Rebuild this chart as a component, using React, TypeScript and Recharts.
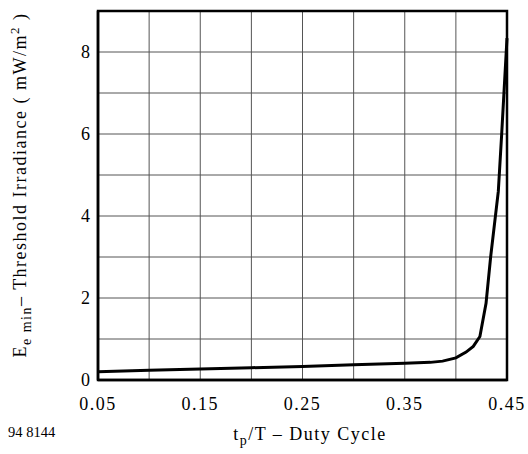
import React from 'react';
import { LineChart, Line, XAxis, YAxis, CartesianGrid, ReferenceArea, Label } from 'recharts';

const dutyCycle = [0.05, 0.1, 0.15, 0.2, 0.25, 0.3, 0.35, 0.375, 0.387, 0.4, 0.41, 0.417, 0.4235, 0.4295, 0.434, 0.4415, 0.4448, 0.45];
const irradiance = [0.2, 0.24, 0.27, 0.3, 0.33, 0.37, 0.41, 0.43, 0.46, 0.54, 0.68, 0.82, 1.06, 1.87, 3.0, 4.6, 6.0, 8.34];

const xTicks = [0.05, 0.1, 0.15, 0.2, 0.25, 0.3, 0.35, 0.4, 0.45];
const xLabeled = [0.05, 0.15, 0.25, 0.35, 0.45];
const yTicks = [0, 1, 2, 3, 4, 5, 6, 7, 8, 9];
const yLabeled = [0, 2, 4, 6, 8];

const data = dutyCycle.map((x, i) => ({ x, y: irradiance[i] }));

const FONT = 'Liberation Serif';

export default function App() {
  return (
    <div style={{ position: 'absolute', left: 0, top: 0, width: 528, height: 454, background: '#fff' }}>
      <LineChart width={528} height={454} data={data} margin={{ top: 11, right: 21, bottom: 44, left: 0 }}>
        <CartesianGrid stroke="#555" strokeWidth={1} />
        <XAxis
          dataKey="x"
          type="number"
          domain={[0.05, 0.45]}
          ticks={xTicks}
          tickFormatter={(v: number) => (xLabeled.includes(v) ? v.toFixed(2) : '')}
          tickSize={0}
          tickMargin={17}
          height={30}
          axisLine={{ stroke: '#000', strokeWidth: 2.5 }}
          tick={{ fill: '#000', fontSize: 18, fontFamily: FONT, letterSpacing: 1.5 }}
          interval={0}
        >
          <Label
            content={() => (
              <g fontFamily={FONT} fill="#000">
                <text x={8} y={437} fontSize={14.5}>94 8144</text>
                <text x={310} y={440} fontSize={18} letterSpacing={1.5} textAnchor="middle">
                  <tspan>t</tspan>
                  <tspan dy={5} fontSize={14}>p</tspan>
                  <tspan dy={-5}>/T – Duty Cycle</tspan>
                </text>
              </g>
            )}
          />
        </XAxis>
        <YAxis
          dataKey="y"
          type="number"
          domain={[0, 9]}
          ticks={yTicks}
          tickFormatter={(v: number) => (yLabeled.includes(v) ? String(v) : '')}
          tickSize={0}
          tickMargin={8}
          width={98}
          axisLine={{ stroke: '#000', strokeWidth: 2.5 }}
          tick={{ fill: '#000', fontSize: 18, fontFamily: FONT }}
          interval={0}
        >
          <Label
            content={() => (
              <text
                x={0}
                y={0}
                transform="translate(26,185) rotate(-90)"
                textAnchor="middle"
                fontFamily={FONT}
                fontSize={18}
                letterSpacing={1.5}
                fill="#000"
              >
                <tspan>E</tspan>
                <tspan dy={5} fontSize={14}>e min</tspan>
                <tspan dy={-5}>– Threshold Irradiance ( mW/m</tspan>
                <tspan dy={-7} fontSize={13}>2</tspan>
                <tspan dy={7}> )</tspan>
              </text>
            )}
          />
        </YAxis>
        <ReferenceArea x1={0.05} x2={0.45} y1={0} y2={9} fill="none" stroke="#000" strokeWidth={2.5} />
        <Line
          dataKey="y"
          type="linear"
          stroke="#000"
          strokeWidth={3}
          dot={false}
          isAnimationActive={false}
        />
      </LineChart>
    </div>
  );
}
